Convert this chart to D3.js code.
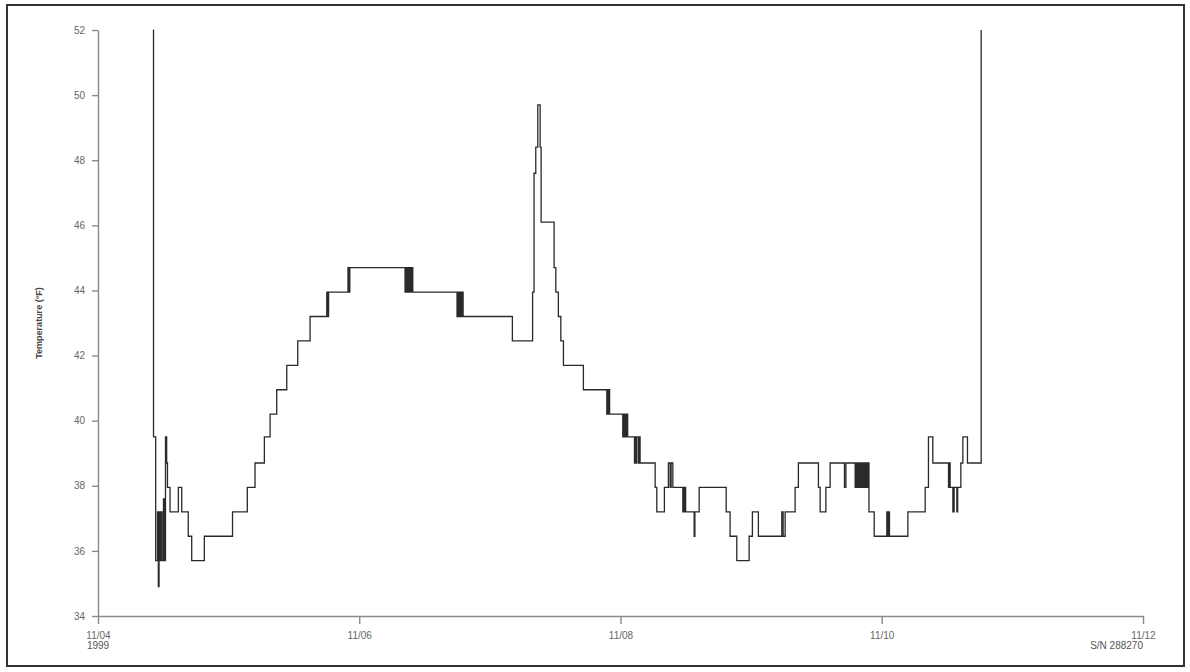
<!DOCTYPE html>
<html>
<head>
<meta charset="utf-8">
<script src="https://cdn.jsdelivr.net/npm/d3@7"></script>
<style>
  body { margin: 0; background: #fff; }
  .axis path, .axis line { stroke: #8a8a8a; stroke-width: 1.4; }
  .axis text { font-family: "Liberation Sans Narrow", "Liberation Sans", Arial, sans-serif; font-size: 10px; fill: #666; }
  .note { font-family: "Liberation Sans Narrow", "Liberation Sans", Arial, sans-serif; font-size: 10px; fill: #555; }
  .axis-title { font-family: "Liberation Sans", Arial, sans-serif; font-size: 9px; font-weight: bold; fill: #444; }
</style>
</head>
<body>
<svg id="chart"></svg>
<script>
// logger readings: hours since 11/04/1999 00:00 and temperature (F), step changes only
const hours = [
  10.16, 10.20, 10.60, 10.93, 11.08, 11.21, 11.39, 11.58, 11.76, 12.04, 12.22, 12.40, 12.62, 12.77, 13.23, 14.76, 15.38, 16.59, 17.22, 19.53,
  24.72, 27.44, 28.85, 30.56, 31.61, 32.84, 34.68, 36.70, 38.96, 42.03, 42.21, 42.36, 45.94, 46.13, 46.27,
  56.42, 56.60, 56.79, 56.97, 57.15, 57.34, 57.52, 57.67, 57.83, 65.97, 66.16, 66.34, 66.53, 66.71, 66.89, 67.08,
  76.14, 79.85, 80.12, 80.44, 80.80, 81.23, 81.41, 83.80, 84.11, 84.59, 85.03, 85.51,
  89.18, 93.48, 93.63, 93.78, 93.91, 94.00, 96.42, 96.57, 96.75, 96.94, 97.12, 97.21, 97.31, 98.56, 98.68, 98.81, 98.96, 99.29, 99.42, 99.60,
  102.36, 102.67, 104.07, 104.80, 105.12, 105.30, 105.61, 107.45, 107.60, 107.74, 107.87, 107.96, 109.53, 109.66, 110.45, 115.41,
  116.14, 117.37, 119.63, 120.24, 121.34, 125.64, 125.88, 126.25, 128.09, 128.69, 132.37, 132.68, 133.73, 134.52,
  137.15, 137.41, 139.11, 139.30, 139.48, 139.67, 139.85, 140.03, 140.22, 140.40, 140.58, 140.77, 140.95, 141.13, 141.32, 141.50, 141.65,
  142.61, 144.94, 145.09, 145.23, 145.42, 148.80, 151.98, 152.59, 153.39, 156.26, 156.45, 156.57, 157.07, 157.30, 157.80, 157.95, 158.53, 158.90, 159.75, 162.27
];
const temps = [
  52, 39.5, 35.7, 37.2, 34.9, 37.2, 35.7, 37.2, 35.7, 37.6, 35.7, 39.5, 38.7, 37.95, 37.2, 37.95, 37.2, 36.45, 35.7, 36.45,
  37.2, 37.95, 38.7, 39.5, 40.2, 40.95, 41.7, 42.45, 43.2, 43.95, 43.2, 43.95, 44.7, 43.95, 44.7,
  43.95, 44.7, 43.95, 44.7, 43.95, 44.7, 43.95, 44.7, 43.95, 43.2, 43.95, 43.2, 43.95, 43.2, 43.95, 43.2,
  42.45, 43.95, 47.6, 48.4, 49.7, 48.4, 46.1, 44.7, 43.95, 43.2, 42.45, 41.7,
  40.95, 40.2, 40.95, 40.2, 40.95, 40.2, 39.5, 40.2, 39.5, 40.2, 39.5, 40.2, 39.5, 38.7, 39.5, 38.7, 39.5, 38.7, 39.5, 38.7,
  37.95, 37.2, 37.95, 38.7, 37.95, 38.7, 37.95, 37.2, 37.95, 37.2, 37.95, 37.2, 36.45, 37.2, 37.95, 37.2,
  36.45, 35.7, 36.45, 37.2, 36.45, 37.2, 36.45, 37.2, 37.95, 38.7, 37.95, 37.2, 37.95, 38.7,
  37.95, 38.7, 37.95, 38.7, 37.95, 38.7, 37.95, 38.7, 37.95, 38.7, 37.95, 38.7, 37.95, 38.7, 37.95, 38.7, 37.2,
  36.45, 37.2, 36.45, 37.2, 36.45, 37.2, 37.95, 39.5, 38.7, 37.95, 38.7, 37.95, 37.2, 37.95, 37.2, 37.95, 38.7, 39.5, 38.7, 52
];

const yTicks = [34, 36, 38, 40, 42, 44, 46, 48, 50, 52];
const xTickDates = ["1999-11-04", "1999-11-06", "1999-11-08", "1999-11-10", "1999-11-12"];
const yearLabel = "1999";
const serialLabel = "S/N 288270";
const yTitle = "Temperature (°F)";

const width = 1190, height = 672;
const margin = { top: 30, right: 47, bottom: 56, left: 98 };

const parseDay = d3.timeParse("%Y-%m-%d");
const start = parseDay(xTickDates[0]);
const data = hours.map((h, i) => ({
  date: d3.timeMinute.offset(start, Math.round(h * 60)),
  temp: temps[i]
}));

const svg = d3.select("#chart").attr("width", width).attr("height", height);

// frame around the whole plot
svg.append("rect")
  .attr("x", 7).attr("y", 5)
  .attr("width", 1177).attr("height", 661)
  .attr("fill", "none")
  .attr("stroke", "#333")
  .attr("stroke-width", 2);

const xScale = d3.scaleTime()
  .domain([start, parseDay(xTickDates[xTickDates.length - 1])])
  .range([margin.left, width - margin.right]);

const yScale = d3.scaleLinear()
  .domain([34, 52])
  .range([height - margin.bottom, margin.top]);

const xAxis = d3.axisBottom(xScale)
  .tickValues(xTickDates.map(parseDay))
  .tickFormat(d3.timeFormat("%m/%d"))
  .tickSize(8)
  .tickSizeOuter(0);

const yAxis = d3.axisLeft(yScale)
  .tickValues(yTicks)
  .tickSize(6)
  .tickSizeOuter(0);

const xAxisG = svg.append("g")
  .attr("class", "axis x-axis")
  .attr("transform", `translate(0,${height - margin.bottom})`)
  .call(xAxis);
xAxisG.selectAll("text").attr("dy", "1.2em");

svg.append("g")
  .attr("class", "axis y-axis")
  .attr("transform", `translate(${margin.left},0)`)
  .call(yAxis)
  .selectAll("text").attr("dx", "-0.4em");

svg.append("text")
  .attr("class", "note")
  .attr("x", xScale(start))
  .attr("y", height - margin.bottom + 33)
  .attr("text-anchor", "middle")
  .text(yearLabel);

svg.append("text")
  .attr("class", "note")
  .attr("x", width - margin.right)
  .attr("y", height - margin.bottom + 33)
  .attr("text-anchor", "end")
  .text(serialLabel);

svg.append("text")
  .attr("class", "axis-title")
  .attr("transform", `translate(42,${(margin.top + height - margin.bottom) / 2}) rotate(-90)`)
  .attr("text-anchor", "middle")
  .text(yTitle);

const line = d3.line()
  .x(d => xScale(d.date))
  .y(d => yScale(d.temp))
  .curve(d3.curveStepAfter);

svg.append("path")
  .datum(data)
  .attr("fill", "none")
  .attr("stroke", "#2a2a2a")
  .attr("stroke-width", 1.3)
  .attr("d", line);
</script>
</body>
</html>
